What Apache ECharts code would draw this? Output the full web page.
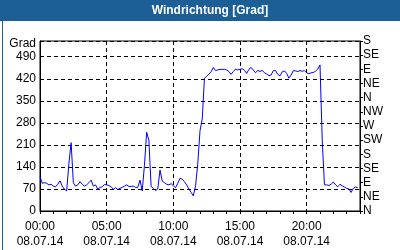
<!DOCTYPE html>
<html><head><meta charset="utf-8">
<script src="https://cdn.jsdelivr.net/npm/echarts@6/dist/echarts.min.js"></script>
<style>html,body{margin:0;padding:0;background:#fff}#c{width:400px;height:250px}</style>
</head><body><div id="c"></div>
<script>
// Wind direction in degrees, one reading every 10 minutes (00:00 .. 23:50, 08.07.14)
const windDir = [
 109, 88, 90, 88, 83, 85,  79, 77, 85, 96, 79, 69,
 64, 150, 217, 90, 79, 83,  93, 85, 79, 83, 90, 98,
 79, 83, 69, 75, 77, 84,  83, 81, 77, 69, 74, 68,
 72, 75, 79, 83, 78, 78,  79, 75, 75, 98, 64, 145,
 250, 225, 78, 72, 65, 70,  130, 95, 90, 85, 83, 87,
 80, 74, 88, 104, 101, 93,  83, 70, 59, 48, 80, 150,
 255, 292, 422, 428, 435, 442,  456, 446, 448, 450, 450, 450,
 448, 443, 434, 443, 451, 448,  450, 452, 447, 437, 450, 456,
 448, 439, 447, 443, 447, 439,  435, 430, 432, 446, 446, 434,
 429, 442, 445, 437, 422, 432,  446, 445, 443, 446, 444, 446,
 439, 436, 439, 440, 444, 451,  464, 225, 83, 83, 81, 85,
 92, 83, 77, 85, 80, 76,  72, 70, 59, 72, 76, 74
];
const dateLabel = '08.07.14';
const leftTicks = [0, 70, 140, 210, 280, 350, 420, 490];
const compass = ['N','NE','E','SE','S','SW','W','NW','N','NE','E','SE','S'];
const yMax = 540;

// time categories 00:00 .. 24:00 in 10-minute steps
const times = [];
for (let m = 0; m <= 24 * 60; m += 10) {
  const h = Math.floor(m / 60), mm = m % 60;
  times.push(String(h).padStart(2, '0') + ':' + String(mm).padStart(2, '0'));
}

const font = 'Liberation Sans';
const chart = echarts.init(document.getElementById('c'), null, {renderer: 'canvas'});
chart.setOption({
  animation: false,
  backgroundColor: '#ffffff',
  graphic: [
    {type: 'rect', left: 0, top: 0, shape: {width: 400, height: 21}, style: {fill: '#1c5e96'}, z: 10},
    {type: 'rect', left: 0, top: 0, shape: {x: 0.5, y: 0.5, width: 399, height: 249},
     style: {fill: 'none', stroke: '#1c5e96', lineWidth: 1}, z: 10},
    {type: 'text', x: 210, y: 11, style: {text: 'Windrichtung [Grad]', fill: '#ffffff',
      font: 'bold 12px "Liberation Sans"', textAlign: 'center', textVerticalAlign: 'middle'}, z: 11}
  ],
  grid: {left: 40, top: 41, width: 320, height: 170, show: true, borderColor: '#000', borderWidth: 1,
         backgroundColor: 'transparent'},
  xAxis: {
    type: 'category', data: times, boundaryGap: false,
    axisLine: {lineStyle: {color: '#000', width: 1}},
    axisTick: {show: true, interval: 5, length: 3, inside: false, lineStyle: {color: '#000'}},
    axisLabel: {interval: 29, color: '#000', fontFamily: font, fontSize: 12, margin: 8, lineHeight: 15,
      formatter: v => v + '\n' + dateLabel},
    splitLine: {show: true, interval: 29, lineStyle: {color: '#000', type: [4, 3], width: 1}}
  },
  yAxis: [
    {type: 'value', min: 0, max: yMax, interval: 70, position: 'left',
     axisLine: {show: true, lineStyle: {color: '#000'}},
     axisTick: {show: false},
     axisLabel: {color: '#000', fontFamily: font, fontSize: 12, margin: 4,
       formatter: v => v === yMax ? '{g|Grad}' : (leftTicks.indexOf(v) >= 0 ? String(v) : ''),
       rich: {g: {color: '#000', fontFamily: font, fontSize: 12, padding: [6, 0, 0, 0]}}},
     splitLine: {show: true, lineStyle: {color: '#000', type: [4, 3], width: 1}}},
    {type: 'value', min: 0, max: yMax, interval: 45, position: 'right',
     axisLine: {show: true, lineStyle: {color: '#000'}},
     axisTick: {show: true, length: 3, lineStyle: {color: '#000'}},
     axisLabel: {color: '#000', fontFamily: font, fontSize: 12, margin: 3,
       formatter: v => compass[Math.round(v / 45)] || ''},
     splitLine: {show: false}}
  ],
  series: [{
    type: 'line', data: windDir, yAxisIndex: 0, symbol: 'none',
    lineStyle: {color: '#0000ff', width: 1}, z: 5
  }]
});
</script></body></html>
